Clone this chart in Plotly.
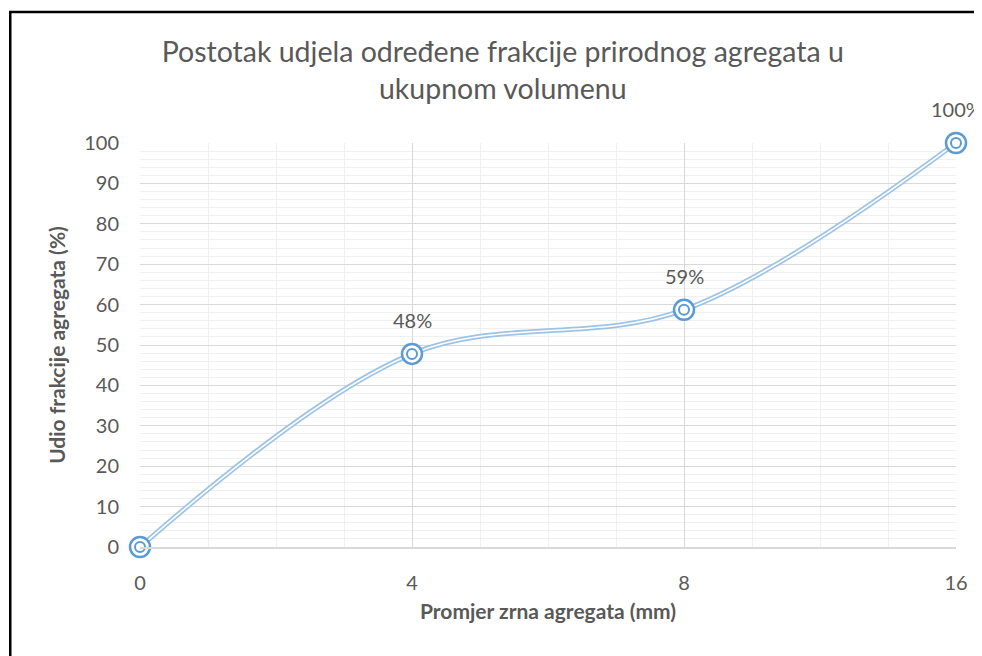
import plotly.graph_objects as go

# data
grain_sizes = ["0", "4", "8", "16"]
share_pct = [0, 47.8, 58.7, 100]
y_ticks = [0, 10, 20, 30, 40, 50, 60, 70, 80, 90, 100]

GREY = "#595959"
BLUE = "#5B9BD5"
FONT = "Lato, 'Open Sans', sans-serif"
x_idx = list(range(len(grain_sizes)))

fig = go.Figure()

# double (compound) line: wide light blue with white core
fig.add_trace(go.Scatter(
    x=x_idx, y=share_pct, mode="lines",
    line=dict(color="#9DC3E6", width=5, shape="spline", smoothing=1),
    hoverinfo="skip", showlegend=False,
))
fig.add_trace(go.Scatter(
    x=x_idx, y=share_pct, mode="lines",
    line=dict(color="white", width=1.6, shape="spline", smoothing=1),
    hoverinfo="skip", showlegend=False,
))
# outer ring markers
fig.add_trace(go.Scatter(
    x=x_idx, y=share_pct, mode="markers",
    marker=dict(symbol="circle", size=20, color="white",
                line=dict(color=BLUE, width=2.5)),
    cliponaxis=False, showlegend=False,
))
# inner ring
fig.add_trace(go.Scatter(
    x=x_idx, y=share_pct, mode="markers",
    marker=dict(symbol="circle-open", size=10, color=BLUE,
                line=dict(color=BLUE, width=2)),
    cliponaxis=False, showlegend=False, hoverinfo="skip",
))

# data labels (first point has none)
for xi, v in zip(x_idx[1:], share_pct[1:]):
    fig.add_annotation(x=xi, y=v, text=f"{v:.0f}%", showarrow=False,
                       yshift=34, font=dict(size=20, color=GREY, family=FONT))

fig.update_xaxes(
    range=[0, len(grain_sizes) - 1], tickvals=x_idx, ticktext=grain_sizes,
    showgrid=True, gridcolor="#D9D9D9", gridwidth=1,
    minor=dict(dtick=0.25, showgrid=True, gridcolor="#F0F0F0", gridwidth=1),
    zeroline=False, showline=True, linecolor="#D9D9D9", linewidth=1.5,
    tickfont=dict(size=20, color=GREY, family=FONT), ticklabelstandoff=17,
    title=dict(text="<b>Promjer zrna agregata (mm)</b>", standoff=12,
               font=dict(size=21, color=GREY, family=FONT)),
)
fig.update_yaxes(
    range=[0, 100], tickvals=y_ticks,
    showgrid=True, gridcolor="#D9D9D9", gridwidth=1,
    minor=dict(dtick=2, showgrid=True, gridcolor="#F0F0F0", gridwidth=1),
    zeroline=False, showline=False,
    tickfont=dict(size=20, color=GREY, family=FONT), ticklabelstandoff=20,
    title=dict(text="<b>Udio frakcije agregata (%)</b>", standoff=12,
               font=dict(size=21, color=GREY, family=FONT)),
)

# page body adds an 8px offset, so the figure is 8px smaller than the window
fig.update_layout(
    width=974, height=648,
    margin=dict(l=132, r=26, t=135, b=109),
    paper_bgcolor="white", plot_bgcolor="white",
    title=dict(
        text="Postotak udjela određene frakcije prirodnog agregata u<br>ukupnom volumenu",
        x=0.508, xanchor="center", y=0.917, yanchor="top",
        font=dict(size=28.5, color=GREY, family=FONT),
    ),
    shapes=[dict(type="rect", xref="paper", yref="paper",
                 x0=-0.159, x1=1.2, y0=-0.4, y1=1.324,
                 line=dict(color="black", width=2.5), layer="above")],
)

fig.write_html("out.html")
